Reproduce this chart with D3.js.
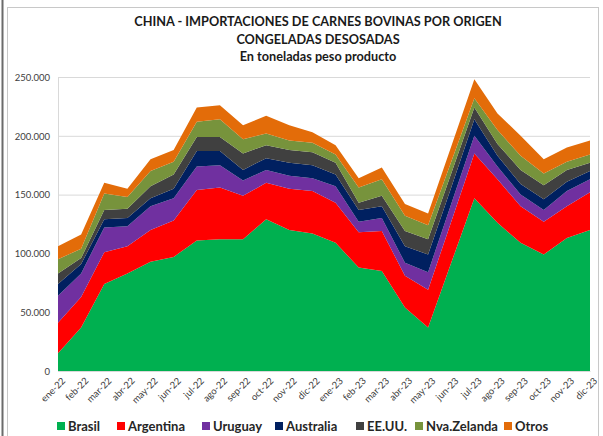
<!DOCTYPE html>
<html>
<head>
<meta charset="utf-8">
<script src="https://cdn.jsdelivr.net/npm/d3@7"></script>
<style>
    html, body { margin: 0; padding: 0; background: #ffffff; }
    svg { display: block; }
    .chart-title { font-family: Lato, "Open Sans", sans-serif; font-weight: bold; font-size: 12.7px; fill: #1a1a1a; }
    .tick-label { font-family: Lato, "Open Sans", sans-serif; font-size: 9.5px; fill: #404040; }
    .legend-label { font-family: Lato, "Open Sans", sans-serif; font-weight: bold; font-size: 13px; fill: #262626; }
</style>
</head>
<body>
<div id="chart"></div>
<script>
const MONTHS = ['ene-22', 'feb-22', 'mar-22', 'abr-22', 'may-22', 'jun-22', 'jul-22', 'ago-22', 'sep-22', 'oct-22', 'nov-22', 'dic-22',
    'ene-23', 'feb-23', 'mar-23', 'abr-23', 'may-23', 'jun-23', 'jul-23', 'ago-23', 'sep-23', 'oct-23', 'nov-23', 'dic-23'];

const SERIES_NAMES = ['Brasil', 'Argentina', 'Uruguay', 'Australia', 'EE.UU.', 'Nva.Zelanda', 'Otros'];

// toneladas peso producto
const BRASIL = [15000, 37000, 74000, 83000, 93000, 97000, 111000, 112000, 112000, 129000, 120000, 117000,
    109000, 88000, 85000, 54000, 37000, 92000, 147000, 126000, 109000, 99000, 113000, 120000];
const ARGENTINA = [26000, 26000, 27000, 23000, 27000, 31000, 43000, 44000, 37000, 31000, 35000, 36000,
    34000, 30000, 34000, 27000, 32000, 35000, 38000, 37000, 31000, 28000, 27000, 32000];
const URUGUAY = [23000, 20000, 21000, 17000, 20000, 19000, 20000, 19000, 13000, 11000, 11000, 11000,
    14000, 9000, 11000, 11000, 15000, 15000, 15000, 11000, 10000, 10000, 13000, 11000];
const AUSTRALIA = [10000, 8000, 7000, 7000, 7000, 8000, 13000, 12000, 9000, 10000, 11000, 11000,
    10000, 10000, 10000, 14000, 15000, 14000, 14000, 9000, 9000, 9000, 8000, 7000];
const EEUU = [9000, 5000, 8000, 8000, 10000, 12000, 12000, 12000, 14000, 11000, 11000, 11000,
    10000, 6000, 9000, 13000, 13000, 12000, 10000, 10000, 12000, 12000, 10000, 7000];
const NVA_ZELANDA = [12000, 8000, 14000, 10000, 13000, 11000, 13000, 15000, 12000, 10000, 8000, 8000,
    7000, 13000, 14000, 13000, 12000, 10000, 8000, 12000, 12000, 10000, 7000, 7000];
const OTROS = [11000, 12000, 9000, 7000, 10000, 10000, 12000, 12000, 12000, 15000, 13000, 9000,
    8000, 8000, 10000, 10000, 10000, 13000, 16000, 14000, 17000, 12000, 12000, 12000];

const Y_TICKS = [0, 50000, 100000, 150000, 200000, 250000];

const SERIES_VALUES = [BRASIL, ARGENTINA, URUGUAY, AUSTRALIA, EEUU, NVA_ZELANDA, OTROS];
const COLORS = ['#00b050', '#ff0000', '#7030a0', '#002060', '#404040', '#77933c', '#e36c09'];

const width = 603;
const height = 436;
const margin = { top: 77, right: 13, bottom: 65, left: 58 };

const rows = MONTHS.map((month, index) => {
    const row = { month };
    SERIES_NAMES.forEach((name, seriesIndex) => {
        row[name] = SERIES_VALUES[seriesIndex][index];
    });
    return row;
});

const svg = d3.select('#chart').append('svg')
    .attr('width', width)
    .attr('height', height);

// frame
svg.append('line')
    .attr('x1', 2.5).attr('x2', 2.5)
    .attr('y1', 0).attr('y2', height)
    .attr('stroke', '#6b6b6b')
    .attr('stroke-width', 2);
svg.append('rect')
    .attr('x', 7.5).attr('y', 7.5)
    .attr('width', 591).attr('height', height + 10)
    .attr('fill', '#ffffff')
    .attr('stroke', '#c8c8c8');

const titleLines = ['CHINA - IMPORTACIONES DE CARNES BOVINAS POR ORIGEN', 'CONGELADAS DESOSADAS', 'En toneladas peso producto'];
svg.selectAll('.chart-title')
    .data(titleLines)
    .enter()
    .append('text')
    .attr('class', 'chart-title')
    .attr('x', 318)
    .attr('y', (datum, index) => 26 + index * 17.5)
    .attr('text-anchor', 'middle')
    .text((datum) => datum);

const xScale = d3.scalePoint()
    .domain(MONTHS)
    .range([margin.left, width - margin.right]);

const yScale = d3.scaleLinear()
    .domain([0, 250000])
    .range([height - margin.bottom, margin.top]);

const locale = d3.formatLocale({ decimal: ',', thousands: '.', grouping: [3], currency: ['', ''] });
const formatTick = locale.format(',');

svg.append('g')
    .attr('transform', `translate(${margin.left},0)`)
    .call(d3.axisLeft(yScale).tickValues(Y_TICKS).tickSize(-(width - margin.left - margin.right)).tickFormat(formatTick))
    .call((group) => group.select('.domain').remove())
    .call((group) => group.selectAll('line').attr('stroke', '#d9d9d9'))
    .call((group) => group.selectAll('text')
        .attr('class', 'tick-label')
        .attr('x', -8)
        .attr('dy', '0.35em'));

svg.append('line')
    .attr('x1', margin.left + 0.5).attr('x2', margin.left + 0.5)
    .attr('y1', margin.top).attr('y2', height - margin.bottom)
    .attr('stroke', '#d9d9d9');

const stack = d3.stack().keys(SERIES_NAMES);
const stacked = stack(rows);

const area = d3.area()
    .x((datum) => xScale(datum.data.month))
    .y0((datum) => yScale(datum[0]))
    .y1((datum) => yScale(datum[1]));

svg.append('g')
    .selectAll('path')
    .data(stacked)
    .enter()
    .append('path')
    .attr('fill', (datum, index) => COLORS[index])
    .attr('d', area);

svg.append('g')
    .attr('transform', `translate(0,${height - margin.bottom})`)
    .call(d3.axisBottom(xScale).tickSize(0))
    .call((group) => group.select('.domain').attr('stroke', '#d9d9d9'))
    .call((group) => group.selectAll('text')
        .attr('class', 'tick-label')
        .attr('text-anchor', 'end')
        .attr('transform', 'translate(3,6) rotate(-45)')
        .attr('dy', '0.35em'));

const legendX = [57, 117, 202, 275, 356, 415, 504];
const legend = svg.append('g')
    .selectAll('g')
    .data(SERIES_NAMES)
    .enter()
    .append('g')
    .attr('transform', (datum, index) => `translate(${legendX[index]},426)`);

legend.append('rect')
    .attr('x', 0)
    .attr('y', -4)
    .attr('width', 8)
    .attr('height', 8)
    .attr('fill', (datum, index) => COLORS[index]);

legend.append('text')
    .attr('class', 'legend-label')
    .attr('x', 11)
    .attr('dy', '0.35em')
    .text((datum) => datum);
</script>
</body>
</html>
